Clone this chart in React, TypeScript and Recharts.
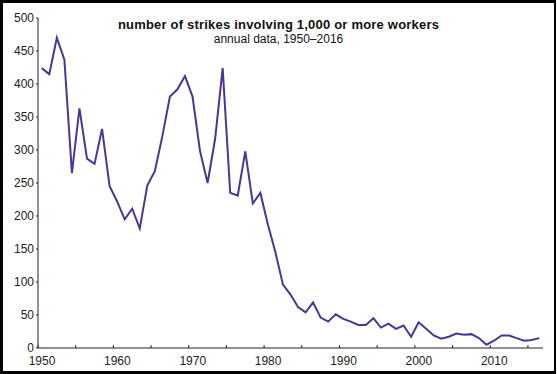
import { LineChart, Line, XAxis, YAxis } from "recharts";

// BLS major work stoppages, 1950–2016
const years = [
  1950, 1951, 1952, 1953, 1954, 1955, 1956, 1957, 1958, 1959,
  1960, 1961, 1962, 1963, 1964, 1965, 1966, 1967, 1968, 1969,
  1970, 1971, 1972, 1973, 1974, 1975, 1976, 1977, 1978, 1979,
  1980, 1981, 1982, 1983, 1984, 1985, 1986, 1987, 1988, 1989,
  1990, 1991, 1992, 1993, 1994, 1995, 1996, 1997, 1998, 1999,
  2000, 2001, 2002, 2003, 2004, 2005, 2006, 2007, 2008, 2009,
  2010, 2011, 2012, 2013, 2014, 2015, 2016,
];

const strikes = [
  424, 415, 470, 437, 265, 363, 287, 279, 332, 245,
  222, 195, 211, 181, 246, 268, 321, 381, 392, 412,
  381, 298, 250, 317, 424, 235, 231, 298, 219, 235,
  187, 145, 96, 81, 62, 54, 69, 46, 40, 51,
  44, 40, 35, 35, 45, 31, 37, 29, 34, 17,
  39, 29, 19, 14, 17, 22, 20, 21, 15, 5,
  11, 19, 19, 15, 11, 12, 15,
];

const xTicks = [
  1950, 1955, 1960, 1965, 1970, 1975, 1980, 1985, 1990, 1995, 2000, 2005,
  2010, 2015,
];
const yTicks = [0, 50, 100, 150, 200, 250, 300, 350, 400, 450, 500];

const title = "number of strikes involving 1,000 or more workers";
const subtitle = "annual data, 1950–2016";

// each year is plotted at mid-year
const data = years.map((y, i) => ({ x: y + 0.5, value: strikes[i] }));

const FONT = "'Liberation Sans', Arial, Helvetica, sans-serif";
const LINE_COLOR = "#4b3597";

const XTick = (props: any) => {
  const { x, y, payload } = props;
  const v = payload.value as number;
  return (
    <g>
      <line x1={x} x2={x} y1={y} y2={y - 3} stroke="#222" strokeWidth={1} />
      {v % 10 === 0 && (
        <text
          x={x + 4}
          y={y + 17}
          textAnchor="middle"
          fontSize={12}
          fontFamily={FONT}
          fill="#222"
        >
          {v}
        </text>
      )}
    </g>
  );
};

export default function App() {
  return (
    <div
      style={{
        position: "absolute",
        left: 0,
        top: 0,
        width: 557,
        height: 374,
        background: "#fff",
      }}
    >
      <style>{`body{margin:0}`}</style>
      <LineChart
        width={557}
        height={374}
        data={data}
        margin={{ top: 18, right: 14, left: 0, bottom: 0 }}
      >
        <XAxis
          type="number"
          dataKey="x"
          domain={[1950, 2017]}
          ticks={xTicks}
          interval={0}
          height={26}
          tickSize={0}
          tickMargin={0}
          tickLine={false}
          axisLine={{ stroke: "#222", strokeWidth: 1 }}
          tick={<XTick />}
        />
        <YAxis
          type="number"
          domain={[0, 500]}
          ticks={yTicks}
          interval={0}
          width={38}
          tickSize={2}
          tickMargin={2}
          tickLine={{ stroke: "#222" }}
          axisLine={{ stroke: "#222", strokeWidth: 1 }}
          tick={{ fontSize: 12, fontFamily: FONT, fill: "#222" }}
        />
        <Line
          type="linear"
          dataKey="value"
          stroke={LINE_COLOR}
          strokeWidth={2}
          dot={false}
          activeDot={false}
          isAnimationActive={false}
        />
      </LineChart>
      <div
        style={{
          position: "absolute",
          left: 0,
          top: 18,
          width: 557,
          textAlign: "center",
          fontFamily: FONT,
          color: "#111",
        }}
      >
        <div
          style={{
            fontWeight: "bold",
            fontSize: 13,
            lineHeight: "14px",
            letterSpacing: 0.2,
          }}
        >
          {title}
        </div>
        <div style={{ fontSize: 12, lineHeight: "15px" }}>{subtitle}</div>
      </div>
      <div
        style={{
          position: "absolute",
          left: 0,
          top: 0,
          width: 556,
          height: 374,
          boxSizing: "border-box",
          borderStyle: "solid",
          borderColor: "#000",
          borderWidth: "3px 2px 3px 3px",
          pointerEvents: "none",
        }}
      />
    </div>
  );
}
